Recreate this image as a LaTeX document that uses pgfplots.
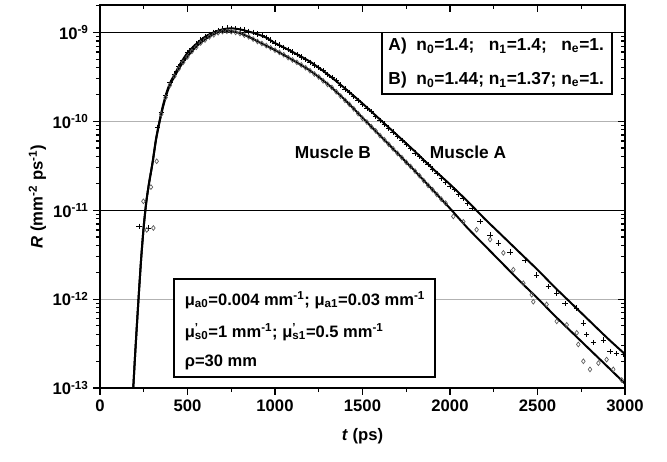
\documentclass[border=0pt]{standalone}
\usepackage{fontspec}
\setmainfont{Liberation Sans}
\usepackage{pgfplots}
\pgfplotsset{compat=1.18}
\newcommand\mup[1]{μ\rlap{\textsuperscript{'}}\textsubscript{#1}}
\begin{document}
\begin{tikzpicture}
\useasboundingbox (-75pt,-54.75pt) rectangle (425.25pt,291pt);
\begin{axis}[
  at={(0pt,0pt)}, anchor=south west, scale only axis,
  width=393.75pt, height=287.25pt,
  xmin=0, xmax=3000, ymode=log, ymin=1e-13, ymax=2.03e-9,
  axis line style={line width=1.1pt},
  tick style={line width=0.9pt, black},
  major tick length=5pt, minor tick length=3pt,
  xtick={0,500,...,3000}, minor x tick num=1,
  ytick={1e-13,1e-12,1e-11,1e-10,1e-9},
  minor ytick={2e-13,3e-13,4e-13,5e-13,6e-13,7e-13,8e-13,9e-13,
               2e-12,3e-12,4e-12,5e-12,6e-12,7e-12,8e-12,9e-12,
               2e-11,3e-11,4e-11,5e-11,6e-11,7e-11,8e-11,9e-11,
               2e-10,3e-10,4e-10,5e-10,6e-10,7e-10,8e-10,9e-10,2e-9},
  font=\bfseries\fontsize{12.5}{15}\selectfont,
  xtick pos=bottom, ytick pos=left, tick align=outside,
  /pgf/number format/assume math mode=true,
  /pgf/number format/1000 sep={},
  scaled x ticks=false,
  yticklabels={10\textsuperscript{-13},10\textsuperscript{-12},10\textsuperscript{-11},10\textsuperscript{-10},10\textsuperscript{-9}},
  ymajorgrids, major grid style={gray!60, line width=0.7pt},
  xlabel={\textit{t} (ps)},
  ylabel={\textit{R} (mm\textsuperscript{-2} ps\textsuperscript{-1})},
  xlabel style={yshift=-6pt},
  ylabel style={yshift=-2pt},
]
\addplot[black, line width=0.7pt, forget plot] coordinates {(0,1e-9) (3000,1e-9)};
\addplot[black, line width=0.7pt, forget plot] coordinates {(0,1e-11) (3000,1e-11)};
% Muscle A data (crosses)
\addplot[only marks, mark=+, mark size=2pt, black, line width=0.5pt] coordinates {
(223,6.6e-12) (276,6.3e-12) (330,8.5e-11) (350,1.26e-10) (375,1.95e-10) (400,2.75e-10)
(425,3.4e-10) (450,4.1e-10) (475,4.9e-10) (500,5.9e-10) (525,6.6e-10) (550,7.4e-10)
(575,8.2e-10) (600,8.9e-10) (625,9.5e-10) (650,1.0e-9) (675,1.05e-9) (700,1.09e-9)
(725,1.12e-9) (750,1.11e-9) (775,1.10e-9) (800,1.08e-9) (825,1.06e-9) (850,1.03e-9) (875,1.0e-9)
(900,9.6e-10) (925,9.2e-10) (950,8.8e-10) (975,8.2e-10) (1000,7.6e-10) (1025,7.2e-10)
(1050,6.8e-10) (1075,6.4e-10) (1100,6.0e-10) (1125,5.6e-10) (1150,5.3e-10) (1175,4.95e-10)
(1200,4.6e-10) (1225,4.3e-10) (1250,4.0e-10) (1275,3.7e-10) (1300,3.35e-10) (1325,3.1e-10)
(1350,2.85e-10) (1375,2.55e-10) (1400,2.30e-10) (1425,2.1e-10) (1450,1.9e-10) (1475,1.72e-10)
(1500,1.55e-10) (1525,1.4e-10) (1550,1.28e-10) (1575,1.14e-10) (1600,1.02e-10) (1625,9.3e-11)
(1650,8.4e-11) (1675,7.6e-11) (1700,6.8e-11) (1725,6.1e-11) (1750,5.5e-11) (1775,4.9e-11)
(1800,4.4e-11) (1825,4.0e-11) (1850,3.6e-11) (1875,3.25e-11) (1900,2.9e-11) (1925,2.6e-11)
(1950,2.3e-11) (1975,2.05e-11) (2000,1.85e-11) (2025,1.7e-11) (2050,1.5e-11) (2075,1.35e-11)
(2100,1.2e-11) (2125,1.05e-11)
(2171,7.41e-12) (2229,5.25e-12) (2276,4.27e-12) (2343,3.39e-12) (2429,2.75e-12) (2495,1.86e-12)
(2562,1.38e-12) (2610,1.175e-12) (2657,8.91e-13) (2724,7.94e-13) (2762,5.37e-13) (2781,3.98e-13)
(2819,3.24e-13) (2876,3.47e-13) (2914,2.57e-13) (2952,2.45e-13) (2990,2.40e-13)
};
% Muscle B data (diamonds)
\addplot[only marks, mark=diamond, mark size=1.8pt, black!65, line width=0.5pt] coordinates {
(248,1.26e-11) (267,6.0e-12) (291,1.82e-11) (305,6.3e-12) (324,3.55e-11) (350,1.2e-10)
(375,1.85e-10) (400,2.55e-10) (425,3.2e-10) (450,3.9e-10) (475,4.6e-10) (500,5.3e-10)
(525,6.1e-10) (550,6.8e-10) (575,7.6e-10) (600,8.2e-10) (625,8.9e-10) (650,9.4e-10)
(675,9.9e-10) (700,1.02e-9) (725,1.03e-9) (750,1.02e-9) (775,1.0e-9) (800,9.7e-10)
(825,9.3e-10) (850,8.9e-10) (875,8.4e-10) (900,7.9e-10) (925,7.5e-10) (950,7.1e-10)
(975,6.7e-10) (1000,6.3e-10) (1025,5.95e-10) (1050,5.6e-10) (1075,5.2e-10) (1100,4.9e-10)
(1125,4.6e-10) (1150,4.3e-10) (1175,4.0e-10) (1200,3.7e-10) (1225,3.4e-10) (1250,3.15e-10)
(1275,2.85e-10) (1300,2.6e-10) (1325,2.4e-10) (1350,2.15e-10) (1375,1.92e-10) (1400,1.72e-10)
(1425,1.55e-10) (1450,1.38e-10) (1475,1.22e-10) (1500,1.08e-10) (1525,9.8e-11) (1550,8.7e-11)
(1575,7.8e-11) (1600,6.9e-11) (1625,6.2e-11) (1650,5.5e-11) (1675,4.9e-11) (1700,4.35e-11)
(1725,3.9e-11) (1750,3.45e-11) (1775,3.1e-11) (1800,2.75e-11) (1825,2.45e-11) (1850,2.15e-11)
(1875,1.9e-11) (1900,1.7e-11) (1925,1.5e-11) (1950,1.33e-11) (1975,1.2e-11)
(2019,8.51e-12) (2076,7.41e-12) (2152,6.03e-12) (2229,4.68e-12) (2305,3.31e-12) (2362,2.14e-12)
(2419,1.51e-12) (2467,1.12e-12) (2476,9.33e-13) (2552,8.71e-13) (2610,5.62e-13) (2667,5.13e-13)
(2724,4.17e-13) (2733,3.09e-13) (2762,2.0e-13) (2800,1.62e-13) (2848,1.905e-13) (2895,2.09e-13)
(2933,1.62e-13) (2981,1.23e-13)
};
% Muscle A fit
\addplot[black, line width=1.5pt, smooth, tension=0.4] coordinates {
(190,1.0e-13) (200,2.24e-13) (210,4.79e-13) (220,1.0e-12) (235,2.82e-12) (250,6.61e-12)
(265,1.26e-11) (280,2.00e-11) (300,3.39e-11) (320,6.31e-11) (340,1.0e-10) (360,1.51e-10)
(380,2.09e-10) (400,2.69e-10) (430,3.47e-10) (460,4.47e-10) (500,5.89e-10) (550,7.41e-10)
(600,8.91e-10) (650,1.0e-9) (700,1.08e-9) (750,1.11e-9) (800,1.08e-9) (850,1.02e-9)
(900,9.55e-10) (950,8.71e-10) (1000,7.59e-10) (1100,6.03e-10) (1200,4.68e-10) (1300,3.39e-10)
(1400,2.34e-10) (1500,1.585e-10) (1600,1.047e-10) (1700,6.92e-11) (1800,4.57e-11) (1900,2.95e-11)
(2000,1.95e-11) (2100,1.26e-11) (2200,7.94e-12) (2300,5.13e-12) (2400,3.31e-12) (2500,2.14e-12)
(2600,1.35e-12) (2700,8.71e-13) (2800,5.62e-13) (2900,3.63e-13) (3000,2.40e-13)
};
% Muscle B fit
\addplot[black, line width=1.5pt, smooth, tension=0.4] coordinates {
(190,1.0e-13) (200,2.24e-13) (210,4.79e-13) (220,1.0e-12) (235,2.82e-12) (250,6.61e-12)
(265,1.26e-11) (280,2.00e-11) (300,3.39e-11) (320,6.17e-11) (340,9.77e-11) (360,1.445e-10)
(380,2.00e-10) (400,2.57e-10) (430,3.31e-10) (460,4.17e-10) (500,5.37e-10) (550,6.92e-10)
(600,8.32e-10) (650,9.55e-10) (700,1.035e-9) (750,1.035e-9) (800,9.77e-10) (850,8.91e-10)
(900,7.94e-10) (950,7.08e-10) (1000,6.31e-10) (1100,4.90e-10) (1200,3.72e-10) (1300,2.63e-10)
(1400,1.74e-10) (1500,1.096e-10) (1600,6.92e-11) (1700,4.37e-11) (1800,2.75e-11) (1900,1.70e-11)
(2000,1.047e-11) (2100,6.31e-12) (2200,3.98e-12) (2300,2.51e-12) (2400,1.585e-12) (2500,1.023e-12)
(2600,6.46e-13) (2700,4.17e-13) (2800,2.69e-13) (2900,1.74e-13) (3000,1.12e-13)
};
\node[font=\bfseries\fontsize{13}{15}\selectfont] at (axis cs:1331,4.5e-11) {Muscle B};
\node[font=\bfseries\fontsize{13}{15}\selectfont] at (axis cs:2103,4.5e-11) {Muscle A};
% box 1
\draw[fill=white, line width=1pt] (rel axis cs:0.537,0.768) rectangle (rel axis cs:0.975,0.929);
\node[anchor=west, inner sep=0pt, font=\bfseries\fontsize{13}{15}\selectfont] at (rel axis cs:0.549,0.893)
  {A)\ \ n\textsubscript{0}=1.4;\ \ \ n\textsubscript{1}=1.4;\ \ \ n\textsubscript{e}=1.};
\node[anchor=west, inner sep=0pt, font=\bfseries\fontsize{13}{15}\selectfont] at (rel axis cs:0.549,0.804)
  {B)\ \ n\textsubscript{0}=1.44; n\textsubscript{1}=1.37; n\textsubscript{e}=1.};
% box 2
\draw[fill=white, line width=1pt] (rel axis cs:0.141,0.029) rectangle (rel axis cs:0.638,0.285);
\node[anchor=west, inner sep=0pt, font=\bfseries\fontsize{12.4}{15}\selectfont] at (rel axis cs:0.161,0.230)
  {μ\textsubscript{a0}=0.004 mm\textsuperscript{-1}; μ\textsubscript{a1}=0.03 mm\textsuperscript{-1}};
\node[anchor=west, inner sep=0pt, font=\bfseries\fontsize{12.4}{15}\selectfont] at (rel axis cs:0.161,0.146)
  {\mup{s0}=1 mm\textsuperscript{-1}; \mup{s1}=0.5 mm\textsuperscript{-1}};
\node[anchor=west, inner sep=0pt, font=\bfseries\fontsize{12.4}{15}\selectfont] at (rel axis cs:0.161,0.068)
  {ρ=30 mm};
\end{axis}
\begin{axis}[
  at={(0pt,0pt)}, anchor=south west, scale only axis,
  width=393.75pt, height=287.25pt,
  xmin=0, xmax=3000, ymode=log, ymin=1e-13, ymax=2.03e-9,
  axis line style={line width=1.1pt},
  tick style={line width=0.9pt, black},
  major tick length=5pt, minor tick length=3pt,
  xtick={0,500,...,3000}, minor x tick num=1,
  ytick={1e-13,1e-12,1e-11,1e-10,1e-9},
  minor ytick={2e-13,3e-13,4e-13,5e-13,6e-13,7e-13,8e-13,9e-13,
               2e-12,3e-12,4e-12,5e-12,6e-12,7e-12,8e-12,9e-12,
               2e-11,3e-11,4e-11,5e-11,6e-11,7e-11,8e-11,9e-11,
               2e-10,3e-10,4e-10,5e-10,6e-10,7e-10,8e-10,9e-10,2e-9},
  xtick pos=top, ytick pos=right, tick align=inside,
  xticklabels={,,,,,,}, yticklabels={,,,,},
  ticklabel style={opacity=0},
]
\addplot[draw=none, forget plot] coordinates {(1000,1e-11) (2000,1e-10)};
\end{axis}
\end{tikzpicture}
\end{document}
